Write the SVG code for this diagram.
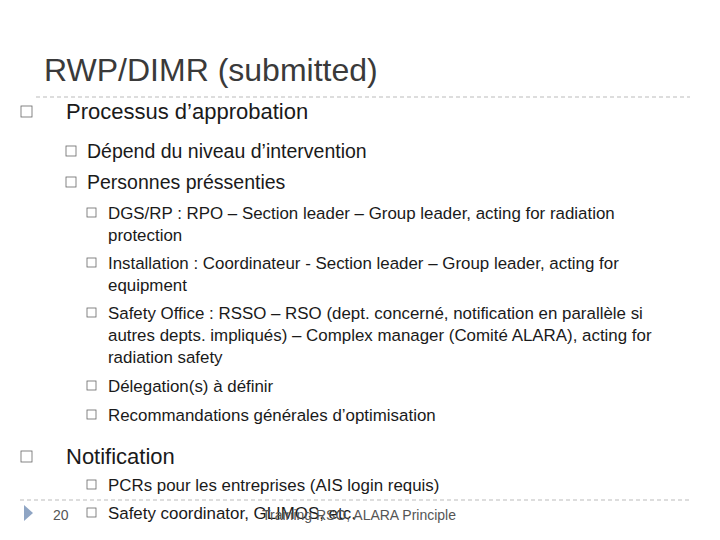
<svg xmlns="http://www.w3.org/2000/svg" width="720" height="540" viewBox="0 0 720 540">
<style>
text{font-family:"Liberation Sans",Arial,sans-serif;fill:#1a1a1a}
.t{font-size:32px;fill:#3a3a3a}
.l1{font-size:22px}
.l2{font-size:19.5px}
.l3{font-size:16.9px}
.f{font-size:14px;fill:#555}
.b{fill:#fff;stroke:#666;stroke-width:0.8}
.d{stroke:#bbb;stroke-width:1;stroke-dasharray:4 3}
</style>
<rect width="720" height="540" fill="#fff"/>
<text class="t" x="44" y="81">RWP/DIMR (submitted)</text>
<line class="d" x1="36" y1="97" x2="690" y2="97"/>
<g id="l1a"><rect class="b" x="21" y="106" width="11" height="11"/><text class="l1" x="66" y="119">Processus d’approbation</text></g>
<g id="l2a"><rect class="b" x="66" y="146" width="10" height="10"/><text class="l2" x="87" y="158">Dépend du niveau d’intervention</text></g>
<g id="l2b"><rect class="b" x="66" y="177" width="10" height="10"/><text class="l2" x="87" y="189">Personnes préssenties</text></g>
<g id="l3a"><rect class="b" x="87" y="208" width="9" height="9"/><text class="l3" x="108" y="219">DGS/RP : RPO – Section leader – Group leader, acting for radiation</text><text class="l3" x="108" y="241">protection</text></g>
<g id="l3b"><rect class="b" x="87" y="258" width="9" height="9"/><text class="l3" x="108" y="269">Installation : Coordinateur - Section leader – Group leader, acting for</text><text class="l3" x="108" y="291">equipment</text></g>
<g id="l3c"><rect class="b" x="87" y="308" width="9" height="9"/><text class="l3" x="108" y="319">Safety Office : RSSO – RSO (dept. concerné,  notification en parallèle si</text><text class="l3" x="108" y="341">autres depts. impliqués) – Complex manager (Comité ALARA), acting for</text><text class="l3" x="108" y="363">radiation safety</text></g>
<g id="l3d"><rect class="b" x="87" y="381" width="9" height="9"/><text class="l3" x="108" y="392">Délegation(s) à définir</text></g>
<g id="l3e"><rect class="b" x="87" y="410" width="9" height="9"/><text class="l3" x="108" y="421">Recommandations générales d’optimisation</text></g>
<g id="l1b"><rect class="b" x="21" y="451" width="11" height="11"/><text class="l1" x="66" y="464">Notification</text></g>
<g id="l3f"><rect class="b" x="87" y="480" width="9" height="9"/><text class="l3" x="108" y="491">PCRs pour les entreprises (AIS login requis)</text></g>
<line class="d" x1="20" y1="500" x2="690" y2="500"/>
<g id="l3g"><rect class="b" x="87" y="508" width="9" height="9"/><text class="l3" x="108" y="519">Safety coordinator, GLIMOS, etc.</text></g>
<polygon points="24,505 33,513 24,521" fill="#8fa5c4"/>
<text class="f" x="53" y="520">20</text>
<text class="f" x="262" y="520">Training RSO,  ALARA Principle</text>
</svg>
